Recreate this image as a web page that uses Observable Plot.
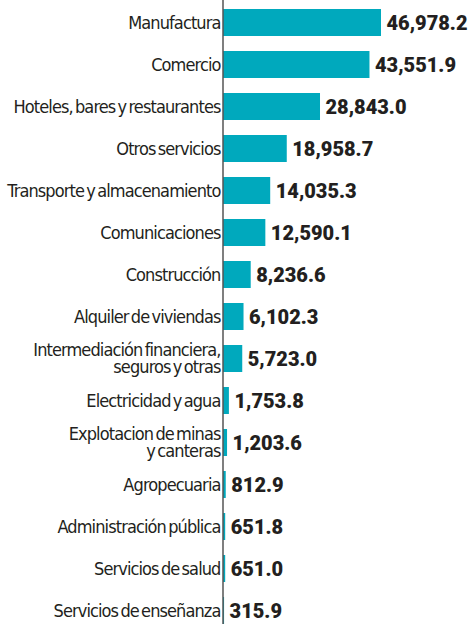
<!DOCTYPE html>
<html>
<head>
<meta charset="utf-8">
<script src="https://cdn.jsdelivr.net/npm/d3@7"></script>
<script src="https://cdn.jsdelivr.net/npm/@observablehq/plot@0.6"></script>
<style>
  html, body { margin: 0; padding: 0; background: #fff; }
  #chart svg { display: block; }
  .lbl text { letter-spacing: -0.9px; word-spacing: -2px; }
</style>
</head>
<body>
<div id="chart"></div>
<script>
const categories = [
  "Manufactura",
  "Comercio",
  "Hoteles, bares y restaurantes",
  "Otros servicios",
  "Transporte y almacenamiento",
  "Comunicaciones",
  "Construcción",
  "Alquiler de viviendas",
  "Intermediación financiera,\nseguros y otras",
  "Electricidad y agua",
  "Explotacion de minas\ny canteras",
  "Agropecuaria",
  "Administración pública",
  "Servicios de salud",
  "Servicios de enseñanza"
];
const values = [46978.2, 43551.9, 28843.0, 18958.7, 14035.3, 12590.1, 8236.6, 6102.3, 5723.0, 1753.8, 1203.6, 812.9, 651.8, 651.0, 315.9];

const data = categories.map((c, i) => ({cat: c, value: values[i]}));
const fmt = d3.format(",.1f");

const chart = Plot.plot({
  width: 469,
  height: 624,
  marginLeft: 223,
  marginRight: 88,
  marginTop: 0,
  marginBottom: 0,
  x: {domain: [0, 46978.2], axis: null},
  y: {domain: categories, axis: null, paddingInner: 0.36, paddingOuter: 0.075, align: 1},
  marks: [
    Plot.barX(data, {x: "value", y: "cat", fill: "#00a9bd"}),
    Plot.ruleX([0], {stroke: "#555", strokeWidth: 1.5, dx: -0.5}),
    Plot.text(data, {
      x: 0, y: "cat", text: "cat", textAnchor: "end", dx: -3, lineHeight: 0.97,
      fontSize: 18, fill: "#231f20", className: "lbl",
      fontFamily: "'DejaVu Sans Condensed', 'Liberation Sans Narrow', sans-serif"
    }),
    Plot.text(data, {
      x: "value", y: "cat", text: d => fmt(d.value), textAnchor: "start", dx: 5, dy: 1,
      fontSize: 20, fontWeight: 900, fill: "#231f20",
      fontFamily: "Roboto, sans-serif"
    })
  ]
});
document.getElementById("chart").append(chart);
</script>
</body>
</html>
